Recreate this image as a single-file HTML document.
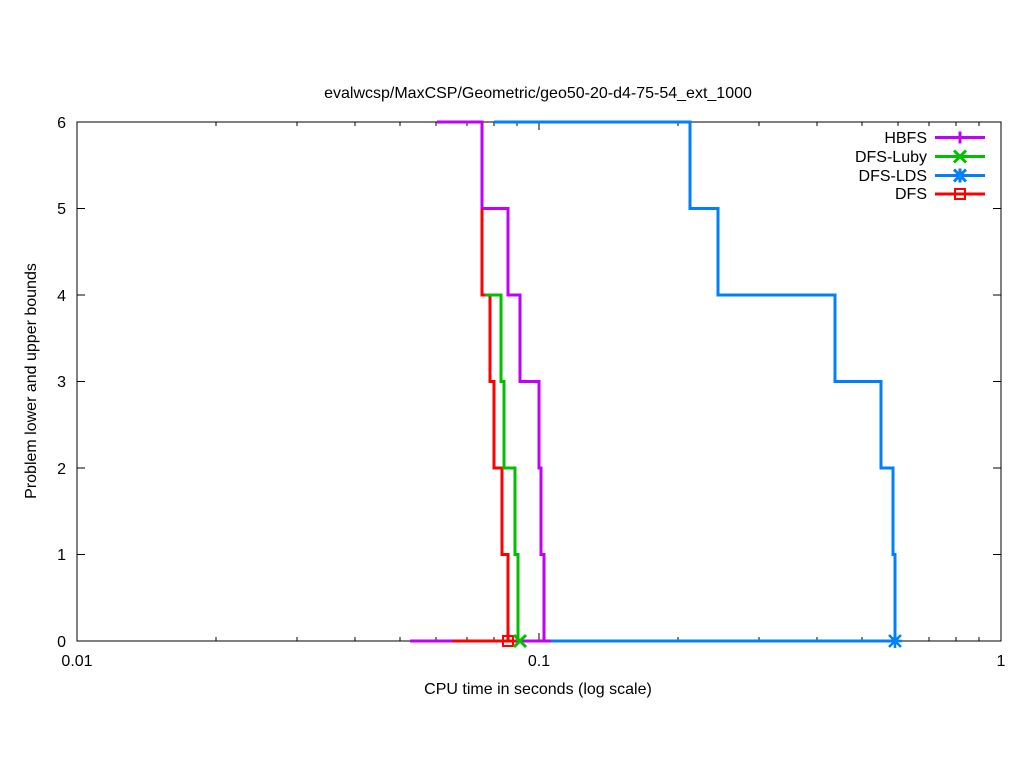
<!DOCTYPE html>
<html><head><style>body{margin:0;background:#fff}svg{display:block}</style></head><body>
<svg width="1024" height="768" xmlns="http://www.w3.org/2000/svg" font-family="Liberation Sans, sans-serif" font-size="16">
<rect width="1024" height="768" fill="#fff"/>
<text x="538" y="98" text-anchor="middle">evalwcsp/MaxCSP/Geometric/geo50-20-d4-75-54_ext_1000</text>
<g stroke="#000" stroke-width="1" fill="none">
<rect x="77" y="122" width="924" height="519"/>
<path d="M77 122h8M1001 122h-8M77 208.5h8M1001 208.5h-8M77 295h8M1001 295h-8M77 381.5h8M1001 381.5h-8M77 468h8M1001 468h-8M77 554.5h8M1001 554.5h-8"/>
<path d="M77 641v-8M539 641v-8M1001 641v-8M77 122v8M539 122v8M1001 122v8"/>
<path d="M216 641v-4M297 641v-4M355 641v-4M400 641v-4M436 641v-4M467 641v-4M494 641v-4M517 641v-4M678 641v-4M759 641v-4M817 641v-4M862 641v-4M898 641v-4M929 641v-4M956 641v-4M979 641v-4M216 122v4M297 122v4M355 122v4M400 122v4M436 122v4M467 122v4M494 122v4M517 122v4M678 122v4M759 122v4M817 122v4M862 122v4M898 122v4M929 122v4M956 122v4M979 122v4"/>
</g>
<g text-anchor="end"><text x="66" y="128">6</text><text x="66" y="214">5</text><text x="66" y="301">4</text><text x="66" y="387">3</text><text x="66" y="474">2</text><text x="66" y="560">1</text><text x="66" y="647">0</text></g>
<g text-anchor="middle"><text x="77" y="666">0.01</text><text x="539" y="666">0.1</text><text x="1001" y="666">1</text></g>
<text x="538" y="694" text-anchor="middle">CPU time in seconds (log scale)</text>
<text transform="translate(36,381) rotate(-90)" text-anchor="middle">Problem lower and upper bounds</text>
<g fill="none" stroke-width="3">
<path stroke="#c000ff" d="M410 641H452M516 641H551M437 122H482V208.5H508V295H520V381.5H539V468H541V554.5H544V641"/>
<path stroke="#0080ff" d="M551 641H895M494 122H690V208.5H718V295H835V381.5H881V468H893V554.5H895V641"/>
<path stroke="#ff0000" d="M452 641H516M482 208.5V295H490V381.5H494V468H502V554.5H508V641"/>
<path stroke="#00c000" d="M485 295H501V381.5H504V468H515V554.5H518V641"/>
<rect stroke="#ff0000" x="503" y="636" width="10" height="10" stroke-width="2"/>
<path stroke="#00c000" d="M514 635l12 12M526 635l-12 12"/>
<path stroke="#0080ff" stroke-width="2.5" d="M889 635l12 12M901 635l-12 12M895 634v14M888 641h14"/>
</g>
<g text-anchor="end">
<text x="927" y="143">HBFS</text><text x="927" y="162">DFS-Luby</text><text x="927" y="181">DFS-LDS</text><text x="927" y="199">DFS</text>
</g>
<g fill="none" stroke-width="3">
<path stroke="#c000ff" d="M935 137.5h50M960 131.5v12"/>
<path stroke="#00c000" d="M935 156.5h50M954 150.5l12 12M966 150.5l-12 12"/>
<path stroke="#0080ff" d="M935 175.5h50M954 169.5l12 12M966 169.5l-12 12M960 168.5v14"/>
<path stroke="#ff0000" d="M935 194h50"/><rect stroke="#ff0000" stroke-width="2" x="955" y="189" width="10" height="10"/>
</g>
</svg>
</body></html>
